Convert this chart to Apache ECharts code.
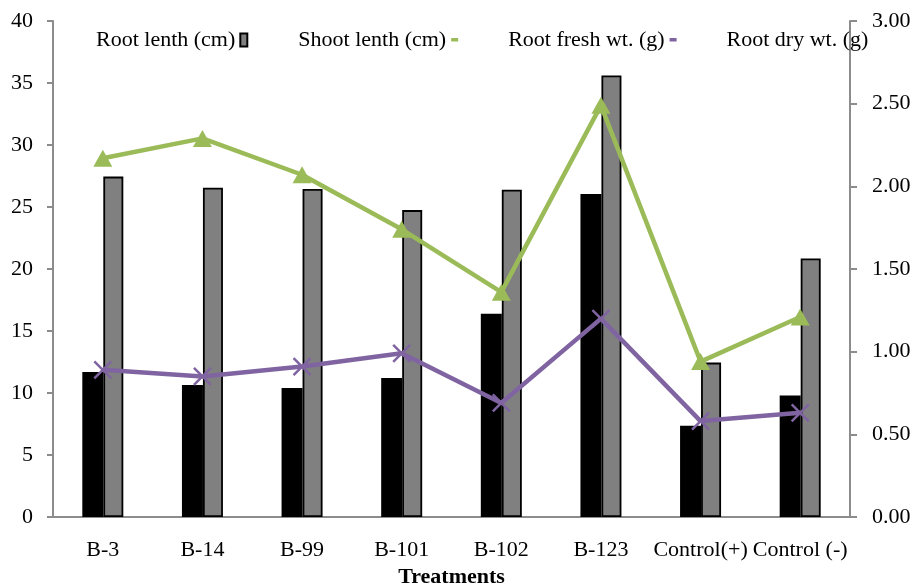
<!DOCTYPE html>
<html>
<head>
<meta charset="utf-8">
<script src="https://cdn.jsdelivr.net/npm/echarts@6/dist/echarts.min.js"></script>
<style>html,body{margin:0;padding:0;background:#fff;}#chart{width:913px;height:584px;}</style>
</head>
<body>
<div id="chart"></div>
<script>
const categories = ['B-3', 'B-14', 'B-99', 'B-101', 'B-102', 'B-123', 'Control(+)', 'Control (-)'];
const rootLength = [11.7, 10.65, 10.4, 11.2, 16.4, 26.05, 7.35, 9.8];
const shootLength = [27.45, 26.55, 26.45, 24.75, 26.4, 35.6, 12.45, 20.85];
const rootFreshWt = [2.17, 2.29, 2.07, 1.74, 1.36, 2.49, 0.94, 1.21];
const rootDryWt = [0.89, 0.85, 0.91, 0.99, 0.69, 1.20, 0.58, 0.63];
const leftTicks = { min: 0, max: 40, interval: 5 };
const rightTicks = { min: 0, max: 3, interval: 0.5 };

const FONT = '"Liberation Serif", "Times New Roman", serif';
const AXIS_GRAY = '#8c8c8c';
const dashIcon = 'path://M0,0 L7,0 L7,0.01 Z M0,4.5 L7,4.5 L7,8 L0,8 Z M0,13 L7,13 L7,13.01 Z';
const crossIcon = 'path://M0,0 L10,10 M10,0 L0,10';

const chart = echarts.init(document.getElementById('chart'), null, { renderer: 'canvas' });
chart.setOption({
  animation: false,
  backgroundColor: '#fff',
  textStyle: { fontFamily: FONT, color: '#000' },
  grid: { left: 53, right: 63, top: 21, bottom: 67, containLabel: false, outerBoundsMode: 'none' },
  legend: {
    left: 91, top: 24,
    align: 'right',
    itemGap: 50,
    itemWidth: 7, itemHeight: 13,
    textStyle: { fontFamily: FONT, fontSize: 22, color: '#000' },
    selectedMode: false,
    data: [
      { name: 'Root lenth (cm)', icon: 'rect', itemStyle: { color: '#808080', borderColor: '#000', borderWidth: 2 } },
      { name: 'Shoot lenth (cm)', icon: dashIcon, itemStyle: { color: '#9bbb59', borderWidth: 0 } },
      { name: 'Root fresh wt. (g)', icon: dashIcon, itemStyle: { color: '#8064a2', borderWidth: 0 } },
      { name: 'Root dry wt. (g)', icon: 'rect', itemStyle: { color: 'rgba(0,0,0,0)', borderWidth: 0 } }
    ]
  },
  xAxis: {
    type: 'category',
    data: categories,
    axisLine: { show: true, lineStyle: { color: AXIS_GRAY, width: 2 } },
    axisTick: { show: false },
    axisLabel: { fontFamily: FONT, fontSize: 22, color: '#000', margin: 22, interval: 0 },
    name: 'Treatments',
    nameLocation: 'middle',
    nameGap: 38,
    nameTextStyle: { fontFamily: FONT, fontSize: 22, fontWeight: 'bold', color: '#000' }
  },
  yAxis: [
    {
      type: 'value',
      min: leftTicks.min, max: leftTicks.max, interval: leftTicks.interval,
      axisLine: { show: true, lineStyle: { color: AXIS_GRAY, width: 2 } },
      axisTick: { show: true, inside: false, length: 6, lineStyle: { color: AXIS_GRAY, width: 2 } },
      splitLine: { show: false },
      axisLabel: { fontFamily: FONT, fontSize: 22, color: '#000', margin: 20 }
    },
    {
      type: 'value',
      position: 'right',
      min: rightTicks.min, max: rightTicks.max, interval: rightTicks.interval,
      axisLine: { show: true, lineStyle: { color: AXIS_GRAY, width: 2 } },
      axisTick: { show: true, inside: false, length: 7, lineStyle: { color: AXIS_GRAY, width: 2 } },
      splitLine: { show: false },
      axisLabel: { fontFamily: FONT, fontSize: 22, color: '#000', margin: 22, formatter: v => v.toFixed(2) }
    }
  ],
  series: [
    {
      name: 'Root lenth (cm)', type: 'bar', yAxisIndex: 0,
      data: rootLength, barWidth: 21, barGap: '0%',
      itemStyle: { color: '#000' }
    },
    {
      name: 'Shoot lenth (cm)', type: 'bar', yAxisIndex: 0,
      data: shootLength, barWidth: 20, barGap: '0%',
      itemStyle: { color: '#808080', borderColor: '#000', borderWidth: 1.8 }
    },
    {
      name: 'Root fresh wt. (g)', type: 'line', yAxisIndex: 1,
      data: rootFreshWt,
      lineStyle: { color: '#9bbb59', width: 4.5 },
      itemStyle: { color: '#9bbb59' },
      symbol: 'triangle', symbolSize: [19, 17], showSymbol: true, showAllSymbol: true
    },
    {
      name: 'Root dry wt. (g)', type: 'line', yAxisIndex: 1,
      data: rootDryWt,
      lineStyle: { color: '#8064a2', width: 4.5 },
      itemStyle: { color: '#8064a2', borderColor: '#8064a2', borderWidth: 2.5 },
      symbol: crossIcon, symbolSize: 17, showSymbol: true, showAllSymbol: true
    }
  ]
});
</script>
</body>
</html>
